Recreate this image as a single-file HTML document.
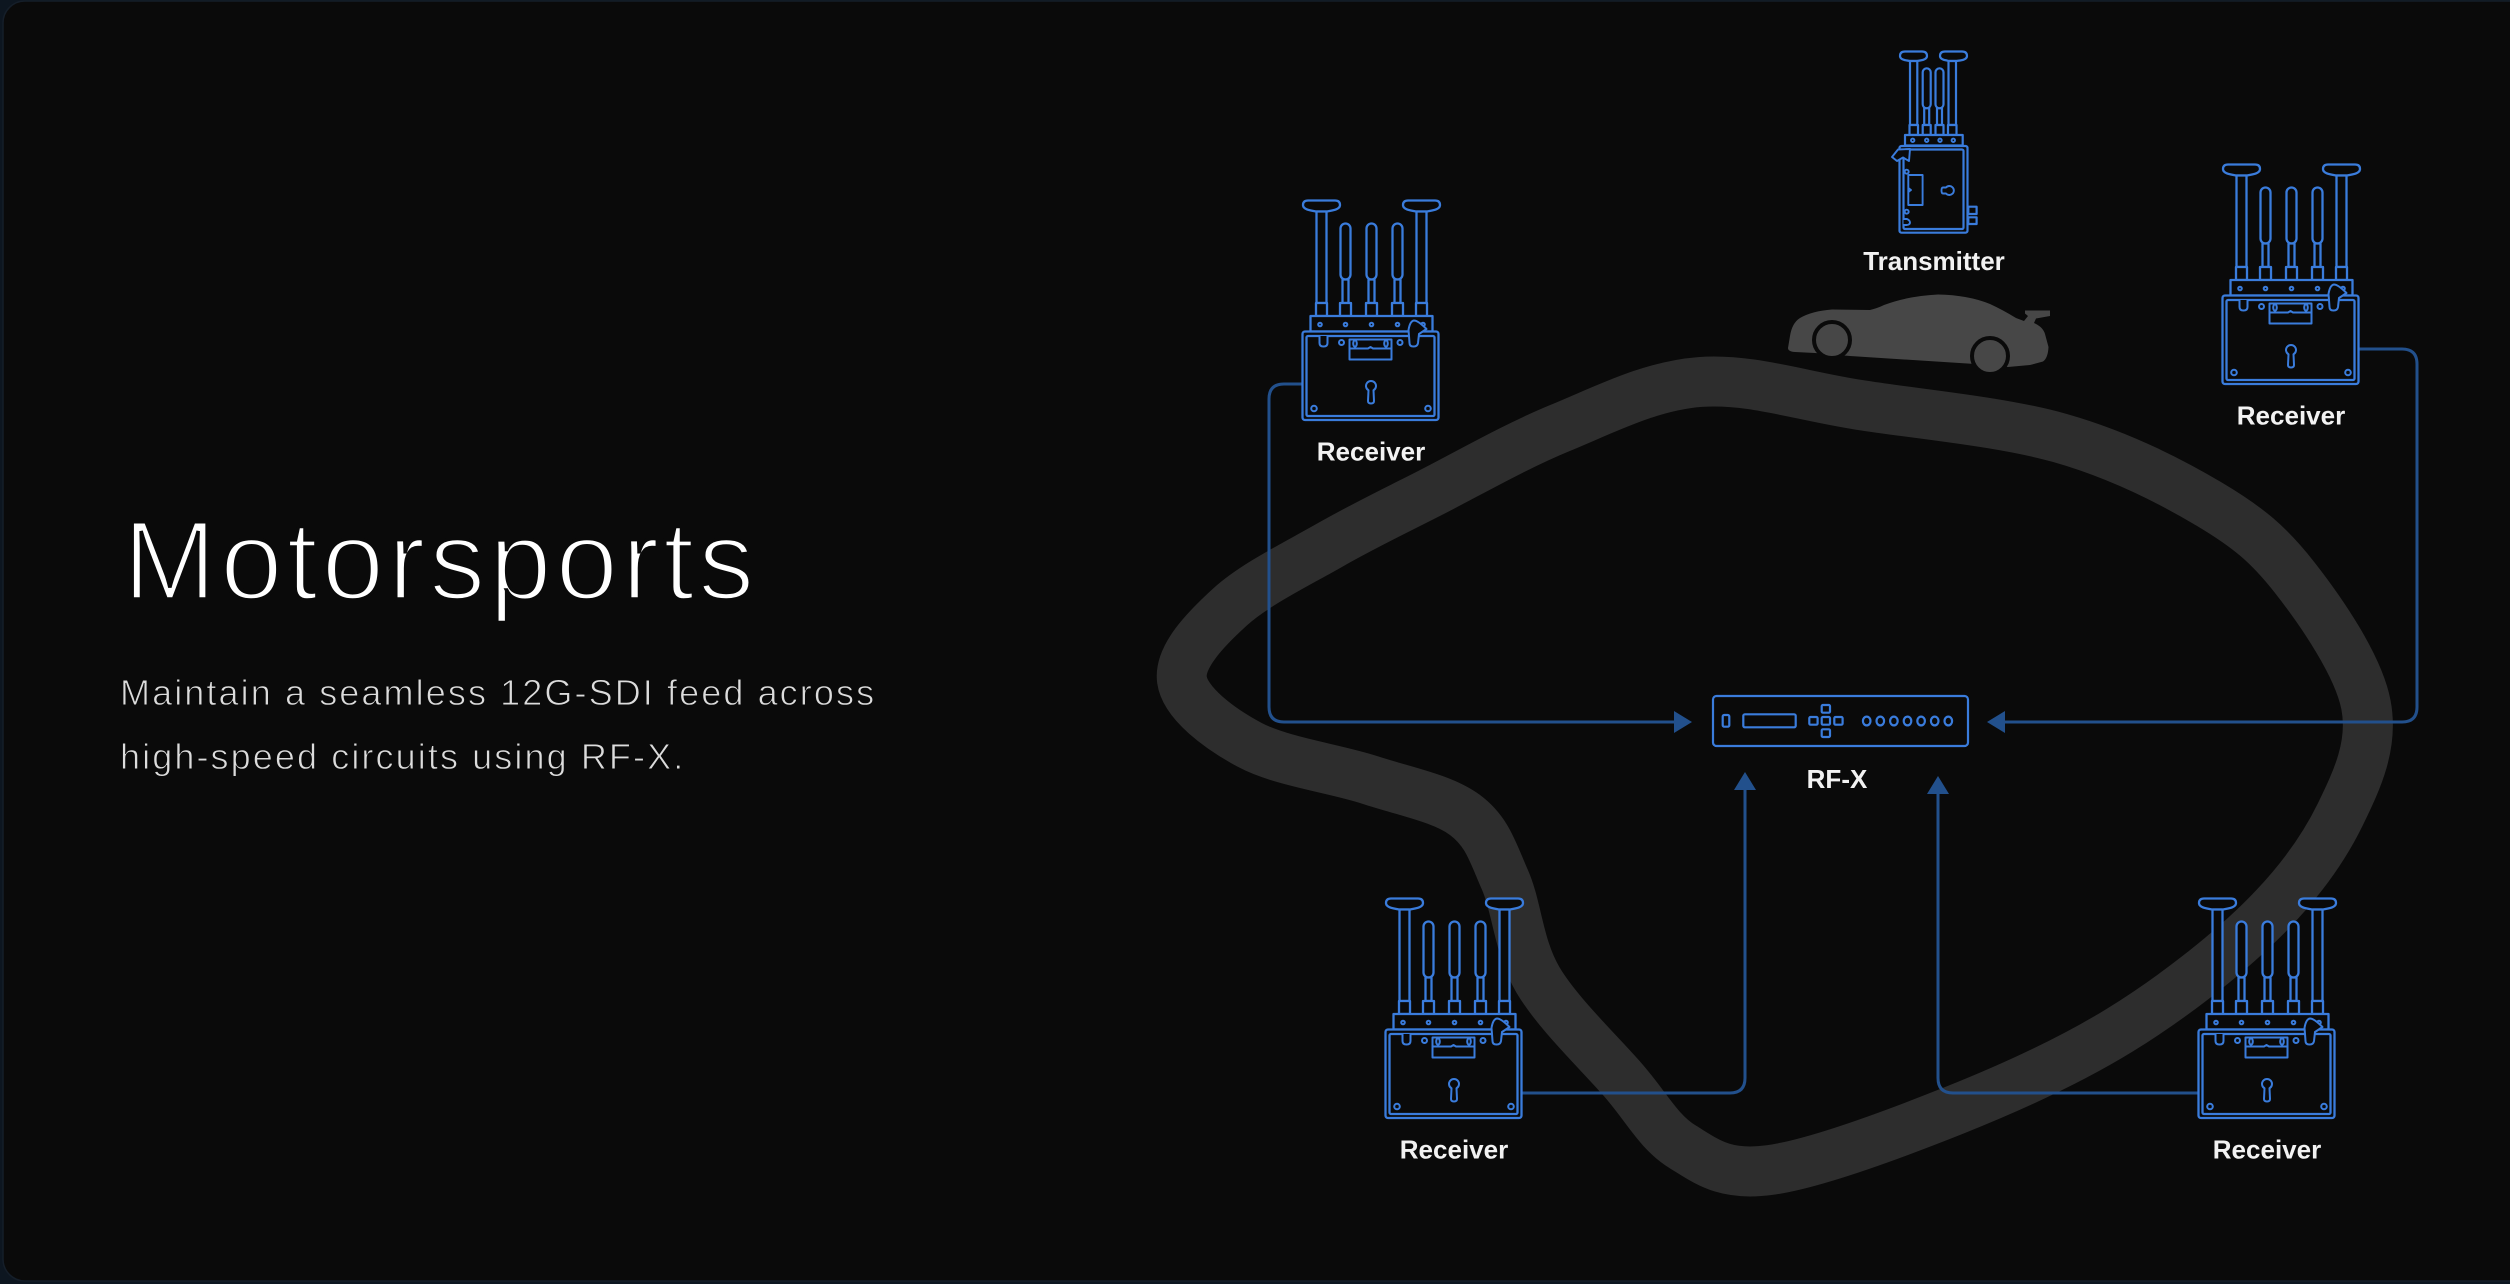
<!DOCTYPE html>
<html>
<head>
<meta charset="utf-8">
<style>
  html, body { margin: 0; padding: 0; width: 2510px; height: 1284px; overflow: hidden; background: #0d1620; }
  svg { position: absolute; left: 0; top: 0; display: block; }
  .t { font-family: "Liberation Sans", "DejaVu Sans", sans-serif; }
</style>
</head>
<body>
<svg width="2510" height="1284" viewBox="0 0 2510 1284" xmlns="http://www.w3.org/2000/svg">
  <defs>
    <g id="rx">
      <g fill="#0a0a0a" stroke="#3a7cdc" stroke-width="2.3" stroke-linejoin="round">
        <!-- big antennas -->
        <path d="M1,5 Q1,0.5 6,0.5 L33,0.5 Q38,0.5 38,5 Q38,9 30,10.5 L25,11.5 L14,11.5 L9,10.5 Q1,9 1,5 Z"/>
        <rect x="14.5" y="11.5" width="10" height="91.5"/>
        <rect x="14" y="103" width="11" height="13"/>
        <path d="M101,5 Q101,0.5 106,0.5 L133,0.5 Q138,0.5 138,5 Q138,9 130,10.5 L125,11.5 L114,11.5 L109,10.5 Q101,9 101,5 Z"/>
        <rect x="114.5" y="11.5" width="10" height="91.5"/>
        <rect x="114" y="103" width="11" height="13"/>
        <!-- small antennas -->
        <rect x="38.5" y="23.5" width="10" height="56" rx="5"/>
        <rect x="40.5" y="79.5" width="6" height="23.5"/>
        <rect x="38" y="103" width="11" height="13"/>
        <rect x="64.5" y="23.5" width="10" height="56" rx="5"/>
        <rect x="66.5" y="79.5" width="6" height="23.5"/>
        <rect x="64" y="103" width="11" height="13"/>
        <rect x="90.5" y="23.5" width="10" height="56" rx="5"/>
        <rect x="92.5" y="79.5" width="6" height="23.5"/>
        <rect x="90" y="103" width="11" height="13"/>
        <!-- plate -->
        <rect x="8.5" y="116" width="122" height="15.5"/>
        <!-- box -->
        <rect x="0.5" y="131.5" width="136" height="88.5" rx="2.5"/>
        <rect x="4.5" y="136" width="128" height="80" rx="1.5"/>
      </g>
      <g fill="#0a0a0a" stroke="#3a7cdc" stroke-width="2" stroke-linejoin="round">
        <circle cx="18" cy="124.5" r="1.8"/>
        <circle cx="43.5" cy="124.5" r="1.8"/>
        <circle cx="69.5" cy="124.5" r="1.8"/>
        <circle cx="95.5" cy="124.5" r="1.8"/>
        <circle cx="121" cy="124.5" r="1.8"/>
        <path d="M17.5,136 L17.5,143 Q17.5,146.5 21.5,146.5 Q25.5,146.5 25.5,143 L25.5,136"/>
        <circle cx="39.5" cy="142.5" r="2.5"/>
        <rect x="47.5" y="139.5" width="42" height="20"/>
        <path d="M47.5,148.5 L66,148.5 L68.5,147 L71,148.5 L89.5,148.5" fill="none"/>
        <ellipse cx="53" cy="143.5" rx="1.8" ry="3.2"/>
        <ellipse cx="84" cy="143.5" rx="1.8" ry="3.2"/>
        <circle cx="98" cy="142.5" r="2.5"/>
        <path d="M107,136 L106.5,130 Q108,121 112,120.5 Q116,120.5 124.5,129 L117,134 L116,143 Q115.5,146.5 111.5,146.5 Q107.5,146.5 107.5,143 Z"/>
        <path d="M66.5,190.3 A5,5 0 1 1 71.5,190.3 L72,201 Q72,203.5 69,203.5 Q66,203.5 66,201 Z"/>
        <circle cx="12" cy="208.5" r="2.8"/>
        <circle cx="126" cy="208.5" r="2.8"/>
      </g>
    </g>
  </defs>

  <!-- card -->
  <rect x="3" y="1" width="2600" height="1280" rx="22" fill="#0a0a0a" stroke="#151e29" stroke-width="1.5"/>

  <!-- title -->
  <text class="t" x="123" y="599" font-size="112" fill="#ffffff" stroke="#0a0a0a" stroke-width="3.5" style="letter-spacing:4px">Motorsports</text>
  <text class="t" x="120" y="705" font-size="36" fill="#dcdcdc" stroke="#0a0a0a" stroke-width="0.9" style="letter-spacing:2.1px">Maintain a seamless 12G-SDI feed across</text>
  <text class="t" x="120" y="769" font-size="36" fill="#dcdcdc" stroke="#0a0a0a" stroke-width="0.9" style="letter-spacing:2.1px">high-speed circuits using RF-X.</text>

  <!-- track -->
  <path fill="none" stroke="#2d2d2d" stroke-width="50" stroke-linejoin="round" d="M1700,382
    C1750,378.2 1800,395.7 1860,405
    C1920,414.3 2001.8,421.5 2060,438
    C2118.2,454.5 2169.8,480.7 2209,504
    C2248.2,527.3 2268.8,544.5 2295,578
    C2321.2,611.5 2358.5,665.5 2366,705
    C2373.5,744.5 2357.7,778.8 2340,815
    C2322.3,851.2 2296.7,886.2 2260,922
    C2223.3,957.8 2170.8,998.7 2120,1030
    C2069.2,1061.3 2013.3,1086.7 1955,1110
    C1896.7,1133.3 1815.3,1163.8 1770,1170
    C1724.7,1176.2 1707.5,1162 1683,1147
    C1658.5,1132 1647.2,1107.8 1623,1080
    C1598.8,1052.2 1557.7,1013.3 1538,980
    C1518.3,946.7 1517.2,907.5 1505,880
    C1492.8,852.5 1487.5,831.7 1465,815
    C1442.5,798.3 1405.8,791.7 1370,780
    C1334.2,768.3 1281.3,761.7 1250,745
    C1218.7,728.3 1185.3,703 1182,680
    C1178.7,657 1205.3,629.5 1230,607
    C1254.7,584.5 1296.7,564 1330,545
    C1363.3,526 1391.7,512.5 1430,493
    C1468.3,473.5 1515,446.5 1560,428
    C1605,409.5 1650,385.8 1700,382 Z"/>

  <!-- car -->
  <g fill="#474747">
    <path d="M1788,348 L1790,336 Q1792,323 1800,318 Q1812,311 1832,309.5 L1870,310 Q1878,308 1884,305 Q1908,296 1938,294.5 Q1968,295 1990,304 Q2003,310 2016,318 L2024,321 L2028,316 L2025,313.5 L2025,310.5 L2050,310.5 L2050,316 L2036,318.5 L2034,323 Q2043,327 2045,334 L2048.5,347 Q2048,358 2043,361.5 L2030,365 L2008,367 L1975,364 L1850,356 L1815,353 L1795,352 Q1788,351.5 1788,348 Z"/>
    <circle cx="1832" cy="340" r="18" stroke="#0a0a0a" stroke-width="4"/>
    <circle cx="1990" cy="356" r="18" stroke="#0a0a0a" stroke-width="4"/>
  </g>

  <!-- connectors -->
  <g fill="none" stroke="#22508c" stroke-width="3">
    <path d="M1302,384 L1284,384 Q1269,384 1269,399 L1269,707 Q1269,722 1284,722 L1676,722"/>
    <path d="M2358,349 L2402,349 Q2417,349 2417,364 L2417,707 Q2417,722 2402,722 L2003,722"/>
    <path d="M1521,1093 L1730,1093 Q1745,1093 1745,1078 L1745,789"/>
    <path d="M2198,1093 L1953,1093 Q1938,1093 1938,1078 L1938,793"/>
  </g>
  <g fill="#22508c">
    <polygon points="1692,722 1674,711 1674,733"/>
    <polygon points="1987,722 2005,711 2005,733"/>
    <polygon points="1745,772 1734,790 1756,790"/>
    <polygon points="1938,776 1927,794 1949,794"/>
  </g>

  <!-- RF-X -->
  <g fill="#0a0a0a" stroke="#3a7cdc" stroke-width="2.2">
    <rect x="1713" y="696" width="255" height="50" rx="3.5"/>
    <rect x="1722.7" y="715" width="6.6" height="11.7" rx="1.5"/>
    <rect x="1743.3" y="714.3" width="52.4" height="13" rx="1.5"/>
    <rect x="1821.7" y="705" width="8.3" height="7.7" rx="1.2"/>
    <rect x="1809.3" y="717" width="8.3" height="7.7" rx="1.2"/>
    <rect x="1821.7" y="717" width="8.3" height="7.7" rx="1.2"/>
    <rect x="1834.3" y="717" width="8.3" height="7.7" rx="1.2"/>
    <rect x="1821.7" y="729.3" width="8.3" height="7.7" rx="1.2"/>
    <ellipse cx="1866.7" cy="721" rx="3.8" ry="4.4"/>
    <ellipse cx="1880.3" cy="721" rx="3.8" ry="4.4"/>
    <ellipse cx="1893.9" cy="721" rx="3.8" ry="4.4"/>
    <ellipse cx="1907.5" cy="721" rx="3.8" ry="4.4"/>
    <ellipse cx="1921.1" cy="721" rx="3.8" ry="4.4"/>
    <ellipse cx="1934.7" cy="721" rx="3.8" ry="4.4"/>
    <ellipse cx="1948.3" cy="721" rx="3.8" ry="4.4"/>
  </g>

  <!-- Transmitter -->
  <g fill="#0a0a0a" stroke="#3a7cdc" stroke-width="2.2" stroke-linejoin="round">
    <path d="M1900,56 Q1900,51.5 1905,51.5 L1922,51.5 Q1927,51.5 1927,56 Q1927,59.5 1920,60.5 L1917,61 L1910,61 L1907,60.5 Q1900,59.5 1900,56 Z"/>
    <rect x="1910" y="61" width="7.3" height="64"/>
    <rect x="1909.5" y="125" width="8.5" height="10"/>
    <path d="M1940,56 Q1940,51.5 1945,51.5 L1962,51.5 Q1967,51.5 1967,56 Q1967,59.5 1960,60.5 L1956,61 L1948.5,61 L1947,60.5 Q1940,59.5 1940,56 Z"/>
    <rect x="1948.5" y="61" width="7.5" height="64"/>
    <rect x="1948" y="125" width="8.5" height="10"/>
    <rect x="1922.7" y="68.3" width="8" height="40" rx="4"/>
    <rect x="1924.2" y="108.3" width="5" height="16.7"/>
    <rect x="1922.7" y="125" width="8" height="10"/>
    <rect x="1935.5" y="68.3" width="8" height="40" rx="4"/>
    <rect x="1937" y="108.3" width="5" height="16.7"/>
    <rect x="1935.5" y="125" width="8" height="10"/>
    <rect x="1905" y="135" width="57.7" height="10.5"/>
    <rect x="1968.3" y="206.7" width="8.3" height="7.3"/>
    <rect x="1968.3" y="217.3" width="8.3" height="6.7"/>
    <rect x="1899.5" y="146" width="68" height="86.7" rx="2"/>
    <rect x="1903.5" y="149.5" width="60" height="79.5" rx="1.5"/>
  </g>
  <g fill="#0a0a0a" stroke="#3a7cdc" stroke-width="1.9" stroke-linejoin="round">
    <circle cx="1912.7" cy="140.3" r="1.7"/>
    <circle cx="1926.7" cy="140.3" r="1.7"/>
    <circle cx="1940" cy="140.3" r="1.7"/>
    <circle cx="1953.3" cy="140.3" r="1.7"/>
    <path d="M1910,149 L1898,149.5 L1892,157 L1897,161 L1903,157.5 L1909,161 Z"/>
    <rect x="1908.3" y="175" width="14.3" height="30"/>
    <path d="M1908.3,188 L1911,190 L1908.3,192" fill="none"/>
    <circle cx="1906.7" cy="171.7" r="2"/>
    <circle cx="1906.7" cy="211.7" r="2"/>
    <path d="M1903.5,219 L1907,219 Q1910,220.5 1910,222.5 Q1910,224.5 1907,225 L1903.5,225"/>
    <path d="M1946,187.5 A4.5,4.5 0 1 1 1946,193.5 L1943,193.5 Q1941.5,193.5 1941.5,190.5 Q1941.5,187.5 1943,187.5 Z"/>
  </g>

  <!-- receivers -->
  <use href="#rx" transform="translate(1302,200)"/>
  <use href="#rx" transform="translate(2222,164)"/>
  <use href="#rx" transform="translate(1385,898)"/>
  <use href="#rx" transform="translate(2198,898)"/>

  <!-- labels -->
  <g class="t" font-size="26" font-weight="bold" fill="#f2f2f2" text-anchor="middle">
    <text x="1371" y="460.5">Receiver</text>
    <text x="2291" y="424.5">Receiver</text>
    <text x="1454" y="1158.5">Receiver</text>
    <text x="2267" y="1158.5">Receiver</text>
    <text x="1934" y="270">Transmitter</text>
    <text x="1837" y="788">RF-X</text>
  </g>
</svg>
</body>
</html>
